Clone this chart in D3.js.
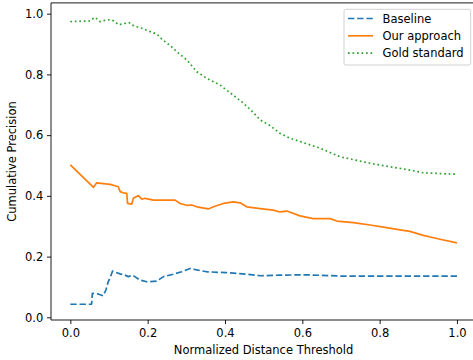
<!DOCTYPE html>
<html><head><meta charset="utf-8">
<script src="https://cdn.jsdelivr.net/npm/d3@7"></script>
<style>
body{margin:0;background:#fff;}
svg{display:block;font-family:"DejaVu Sans",sans-serif;}
</style></head>
<body><svg id="c" width="473" height="360"></svg>
<script>
const seriesNames = ["Baseline","Our approach","Gold standard"];
const xTicks = [0.0,0.2,0.4,0.6,0.8,1.0];
const yTicks = [0.0,0.2,0.4,0.6,0.8,1.0];

const baselineX = [0.0,0.055,0.057,0.072,0.085,0.092,0.098,0.104,0.109,0.120,0.129,0.141,0.150,0.161,0.180,0.198,0.223,0.241,0.266,0.288,0.310,0.327,0.353,0.404,0.456,0.491,0.542,0.611,0.697,0.8,0.9,1.0];
const baselineY = [0.043,0.043,0.079,0.077,0.071,0.090,0.117,0.134,0.152,0.147,0.143,0.139,0.134,0.139,0.123,0.117,0.119,0.134,0.142,0.150,0.161,0.156,0.150,0.147,0.142,0.137,0.139,0.140,0.136,0.136,0.136,0.136];

const oursX = [0.0,0.060,0.068,0.103,0.124,0.129,0.137,0.146,0.148,0.159,0.163,0.176,0.185,0.193,0.215,0.271,0.284,0.301,0.314,0.327,0.357,0.370,0.396,0.421,0.439,0.456,0.491,0.525,0.542,0.560,0.594,0.628,0.672,0.689,0.732,0.775,0.810,0.853,0.878,0.913,0.956,1.0];
const oursY = [0.502,0.428,0.443,0.438,0.430,0.414,0.410,0.408,0.375,0.373,0.392,0.401,0.389,0.392,0.386,0.386,0.375,0.369,0.370,0.364,0.357,0.364,0.375,0.380,0.377,0.364,0.358,0.353,0.347,0.350,0.334,0.325,0.325,0.317,0.312,0.304,0.297,0.288,0.283,0.270,0.257,0.245];

const goldX = [0.0,0.051,0.060,0.066,0.072,0.077,0.085,0.101,0.111,0.118,0.122,0.129,0.141,0.153,0.159,0.172,0.185,0.202,0.219,0.228,0.236,0.245,0.258,0.266,0.275,0.301,0.327,0.353,0.387,0.421,0.443,0.465,0.491,0.516,0.542,0.568,0.646,0.697,0.784,0.870,0.913,1.0];
const goldY = [0.974,0.976,0.985,0.987,0.977,0.974,0.977,0.980,0.977,0.972,0.965,0.965,0.968,0.970,0.963,0.957,0.952,0.943,0.935,0.928,0.917,0.908,0.895,0.886,0.875,0.848,0.809,0.787,0.765,0.732,0.710,0.685,0.650,0.632,0.606,0.590,0.557,0.529,0.505,0.487,0.476,0.471];

const colors = ["#1f77b4","#ff7f0e","#2ca02c"];
const dashes = ["6.4,2.8", null, "1.7,2.8"];
const FS = 11.5;

const svg = d3.select("#c");
const x = d3.scaleLinear().domain([-0.05,1.05]).range([51.0,476.3]);
const y = d3.scaleLinear().domain([-0.0088,1.0355]).range([320.0,2.9]);

const series = [
  {name:seriesNames[0], xs:baselineX, ys:baselineY},
  {name:seriesNames[1], xs:oursX, ys:oursY},
  {name:seriesNames[2], xs:goldX, ys:goldY}
];

const line = d3.line().x(d=>x(d[0])).y(d=>y(d[1]));
const plot = svg.append("g");
series.forEach((s,i)=>{
  const pts = s.xs.map((v,j)=>[v,s.ys[j]]);
  const p = plot.append("path").datum(pts).attr("d",line)
    .attr("fill","none").attr("stroke",colors[i]).attr("stroke-width",1.7)
    .attr("stroke-linejoin","round");
  if(dashes[i]) p.attr("stroke-dasharray",dashes[i]);
});

// axes
const xAxis = d3.axisBottom(x).tickValues(xTicks).tickFormat(d3.format(".1f")).tickSize(4).tickPadding(5.3);
const yAxis = d3.axisLeft(y).tickValues(yTicks).tickFormat(d3.format(".1f")).tickSize(4).tickPadding(3.7);
const gx = svg.append("g").attr("transform","translate(0,320)").call(xAxis);
const gy = svg.append("g").attr("transform","translate(51,0)").call(yAxis);
[gx,gy].forEach(g=>{
  g.select(".domain").remove();
  g.selectAll("line").attr("stroke","#000").attr("stroke-width",0.9);
  g.selectAll("text").attr("font-family","DejaVu Sans").attr("font-size",FS).attr("fill","#000");
});
// spines
svg.append("line").attr("x1",51).attr("x2",473).attr("y1",320).attr("y2",320).attr("stroke","#000").attr("stroke-width",0.9);
svg.append("line").attr("x1",51).attr("x2",51).attr("y1",2.9).attr("y2",320).attr("stroke","#000").attr("stroke-width",0.9);
svg.append("line").attr("x1",51).attr("x2",473).attr("y1",2.9).attr("y2",2.9).attr("stroke","#000").attr("stroke-width",0.9);

// labels
svg.append("text").attr("x",263.6).attr("y",353.7).attr("text-anchor","middle")
  .attr("font-size",FS).text("Normalized Distance Threshold");
svg.append("text").attr("transform","translate(16,161.5) rotate(-90)").attr("text-anchor","middle")
  .attr("font-size",FS).text("Cumulative Precision");

// legend
const lg = svg.append("g");
lg.append("rect").attr("x",344).attr("y",9.3).attr("width",126.7).attr("height",55.7)
  .attr("rx",2).attr("fill","#fff").attr("fill-opacity",0.8).attr("stroke","#ccc").attr("stroke-width",0.9);
series.forEach((s,i)=>{
  const yy = 18.5 + i*17.3;
  const l = lg.append("line").attr("x1",348).attr("x2",373).attr("y1",yy).attr("y2",yy)
    .attr("stroke",colors[i]).attr("stroke-width",1.7);
  if(dashes[i]) l.attr("stroke-dasharray",dashes[i]);
  lg.append("text").attr("x",382.5).attr("y",yy+4.2).attr("font-size",FS).text(s.name);
});
</script></body></html>
